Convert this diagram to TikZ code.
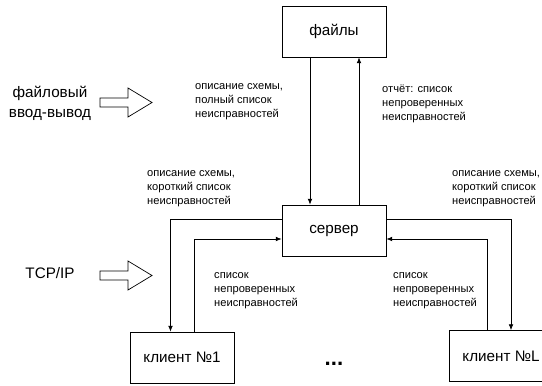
\documentclass[tikz,border=0pt]{standalone}
\usepackage{fontspec}
\setmainfont{Liberation Sans}
\usetikzlibrary{arrows.meta}

\tikzset{
	box/.style = {draw, line width = 0.6pt, minimum width = 3.12cm, minimum height = 1.53cm, inner sep = 0, font = \fontsize{13}{17}\selectfont},
	bigtext/.style = {inner sep = 0, align = center, font = \fontsize{13}{17}\selectfont},
	lbl/.style = {inner sep = 0, anchor = west, align = left, font = \fontsize{9.5}{11.9}\selectfont},
	link/.style = {line width = 0.6pt, -{Latex[length = 5pt, width = 4pt]}}
}

\begin{document}
\begin{tikzpicture}[x = 0.03cm, y = -0.03cm]
	\clip (0,0) rectangle (542,385);
	
	\node[box] (files) at (334,31.5) {файлы};
	\node[box] (server) at (334,230.5) {сервер};
	\node[box] (client1) at (182,357.5) {клиент №1};
	\node[box] (clientL) at (501,356) {клиент №L};
	
	\draw[link] ([xshift = -0.72cm]files.south) -- ([xshift = -0.72cm]server.north);
	\draw[link] ([xshift = 0.75cm]server.north) -- ([xshift = 0.75cm]files.south);
	
	\draw[link] ([yshift = 0.345cm]server.west) -| ([xshift = -0.345cm]client1.north);
	\draw[link] ([xshift = 0.36cm]client1.north) |- ([yshift = -0.255cm]server.west);
	\draw[link] ([yshift = 0.345cm]server.east) -| ([xshift = 0.3cm]clientL.north);
	\draw[link] ([xshift = -0.42cm]clientL.north) |- ([yshift = -0.255cm]server.east);
	
	\node[lbl] (fulllist) at (195,101.5) {описание схемы,\\полный список\\неисправностей};
	\node[lbl] (report) at (382,103.5) {отчёт: список\\непроверенных\\неисправностей};
	\node[lbl] (shortleft) at (147,189) {описание схемы,\\короткий список\\неисправностей};
	\node[lbl] (shortright) at (452,189) {описание схемы,\\короткий список\\неисправностей};
	\node[lbl] (uncheckedleft) at (214,291) {список\\непроверенных\\неисправностей};
	\node[lbl] (uncheckedright) at (393,291) {список\\непроверенных\\неисправностей};
	
	\node[bigtext] (fileio) at (50,103) {файловый\\ввод-вывод};
	\node[bigtext] (tcpip) at (50,273) {TCP/IP};
	\node[inner sep = 0, font = \fontsize{19}{20}\selectfont\bfseries] (dots) at (334,364) {...};
	
	\begin{scope}[shift = {(100,102.5)}]
		\draw[line width = 0.6pt] (0,-4.5) -- (28,-4.5) -- (28,-14.5) -- (52,0) -- (28,14.5) -- (28,4.5) -- (0,4.5) -- cycle;
	\end{scope}
	
	\begin{scope}[shift = {(100,275.5)}]
		\draw[line width = 0.6pt] (0,-4.5) -- (28,-4.5) -- (28,-14.5) -- (52,0) -- (28,14.5) -- (28,4.5) -- (0,4.5) -- cycle;
	\end{scope}
	
\end{tikzpicture}
\end{document}
